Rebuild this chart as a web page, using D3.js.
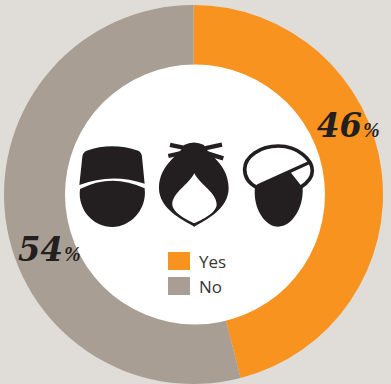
<!DOCTYPE html>
<html>
<head>
<meta charset="utf-8">
<script src="https://cdn.jsdelivr.net/npm/d3@7"></script>
<style>
  html, body { margin: 0; padding: 0; background: #e0dcd8; overflow: hidden; }
  svg { display: block; }
</style>
</head>
<body>
<div id="chart"></div>
<script>
const categories = ['Yes', 'No'];
const values = [46, 54];
const colors = ['#f8931f', '#a89e94'];

const width = 391;
const height = 384;
const cx = 193.5;
const cy = 194.5;
const outer = 189.5;
const inner = 130;
const ink = '#231f20';

const svg = d3.select('#chart')
  .append('svg')
  .attr('width', width)
  .attr('height', height)
  .attr('viewBox', [0, 0, width, height]);

const pie = d3.pie().sort(null).value((d) => d);
const arc = d3.arc().innerRadius(inner - 10).outerRadius(outer);

svg.append('g')
  .attr('transform', `translate(${cx},${cy})`)
  .selectAll('path')
  .data(pie(values))
  .join('path')
  .attr('d', arc)
  .attr('fill', (d, i) => colors[i]);

// the hole sits a bit right of the ring centre in the original
svg.append('circle')
  .attr('cx', cx + 1.5)
  .attr('cy', cy)
  .attr('r', inner)
  .attr('fill', '#fff');

// percent labels sit across the ring
const labelPos = [[317, 137], [18, 261]];
const labels = svg.append('g').attr('fill', ink);
values.forEach((v, i) => {
  labels.append('text')
    .attr('x', labelPos[i][0])
    .attr('y', labelPos[i][1])
    .attr('font-family', '"DejaVu Serif"')
    .attr('font-weight', 'bold')
    .attr('font-style', 'italic')
    .attr('font-size', 33)
    .attr('textLength', 45)
    .attr('lengthAdjust', 'spacingAndGlyphs')
    .text(v);
  labels.append('text')
    .attr('x', labelPos[i][0] + 46)
    .attr('y', labelPos[i][1])
    .attr('font-family', '"Liberation Serif"')
    .attr('font-weight', 'bold')
    .attr('font-style', 'italic')
    .attr('font-size', 20)
    .text('%');
});

// head icons, traced in a 3x space
const icons = svg.append('g').attr('transform', 'translate(60,130) scale(0.3333)');

icons.append('path')
  .attr('fill', ink)
  .attr('d', 'M80 62 Q155 36 235 62 Q245 68 246 80 L254 161 Q155 128 58 165 L67 80 Q68 68 80 62 Z');
icons.append('path')
  .attr('fill', ink)
  .attr('d', 'M60 177 Q155 128 254 175 C262 240 210 291 157 291 C100 291 52 240 60 177 Z');

icons.append('path')
  .attr('fill', ink)
  .attr('fill-rule', 'evenodd')
  .attr('d', 'M372 45 Q402 30 432 45 C440 72 506 100 506 175 C506 235 440 270 403 290 C366 270 297 235 297 175 C297 100 365 72 372 45 Z'
    + ' M403 130 C385 165 335 190 337 225 C340 250 385 272 403 280 C421 272 468 250 470 225 C472 190 421 165 403 130 Z');
icons.append('g')
  .attr('stroke', ink)
  .attr('stroke-width', 13)
  .selectAll('line')
  .data([[330, 45, 395, 58], [325, 78, 370, 68], [486, 44, 420, 58], [490, 85, 435, 68]])
  .join('line')
  .attr('x1', (d) => d[0])
  .attr('y1', (d) => d[1])
  .attr('x2', (d) => d[2])
  .attr('y2', (d) => d[3]);

icons.append('path')
  .attr('fill', '#fff')
  .attr('stroke', ink)
  .attr('stroke-width', 11)
  .attr('d', 'M655 48 C715 48 757 90 757 122 C757 145 740 160 722 172 L590 172 C570 162 554 145 554 118 C554 80 600 48 655 48 Z');
icons.append('path')
  .attr('fill', ink)
  .attr('d', 'M748 92 L750 102 L693 128 L722 165 L728 172 C732 235 695 290 655 290 C615 290 578 235 585 170 L592 163 Z');

// legend
const legend = svg.append('g')
  .selectAll('g')
  .data(categories)
  .join('g')
  .attr('transform', (d, i) => `translate(168,${252 + i * 25})`);
legend.append('rect')
  .attr('width', 22)
  .attr('height', 18)
  .attr('fill', (d, i) => colors[i]);
legend.append('text')
  .attr('x', 31)
  .attr('y', 16)
  .attr('font-family', '"Open Sans"')
  .attr('font-size', 17)
  .attr('fill', '#3a3637')
  .text((d) => d);
</script>
</body>
</html>
